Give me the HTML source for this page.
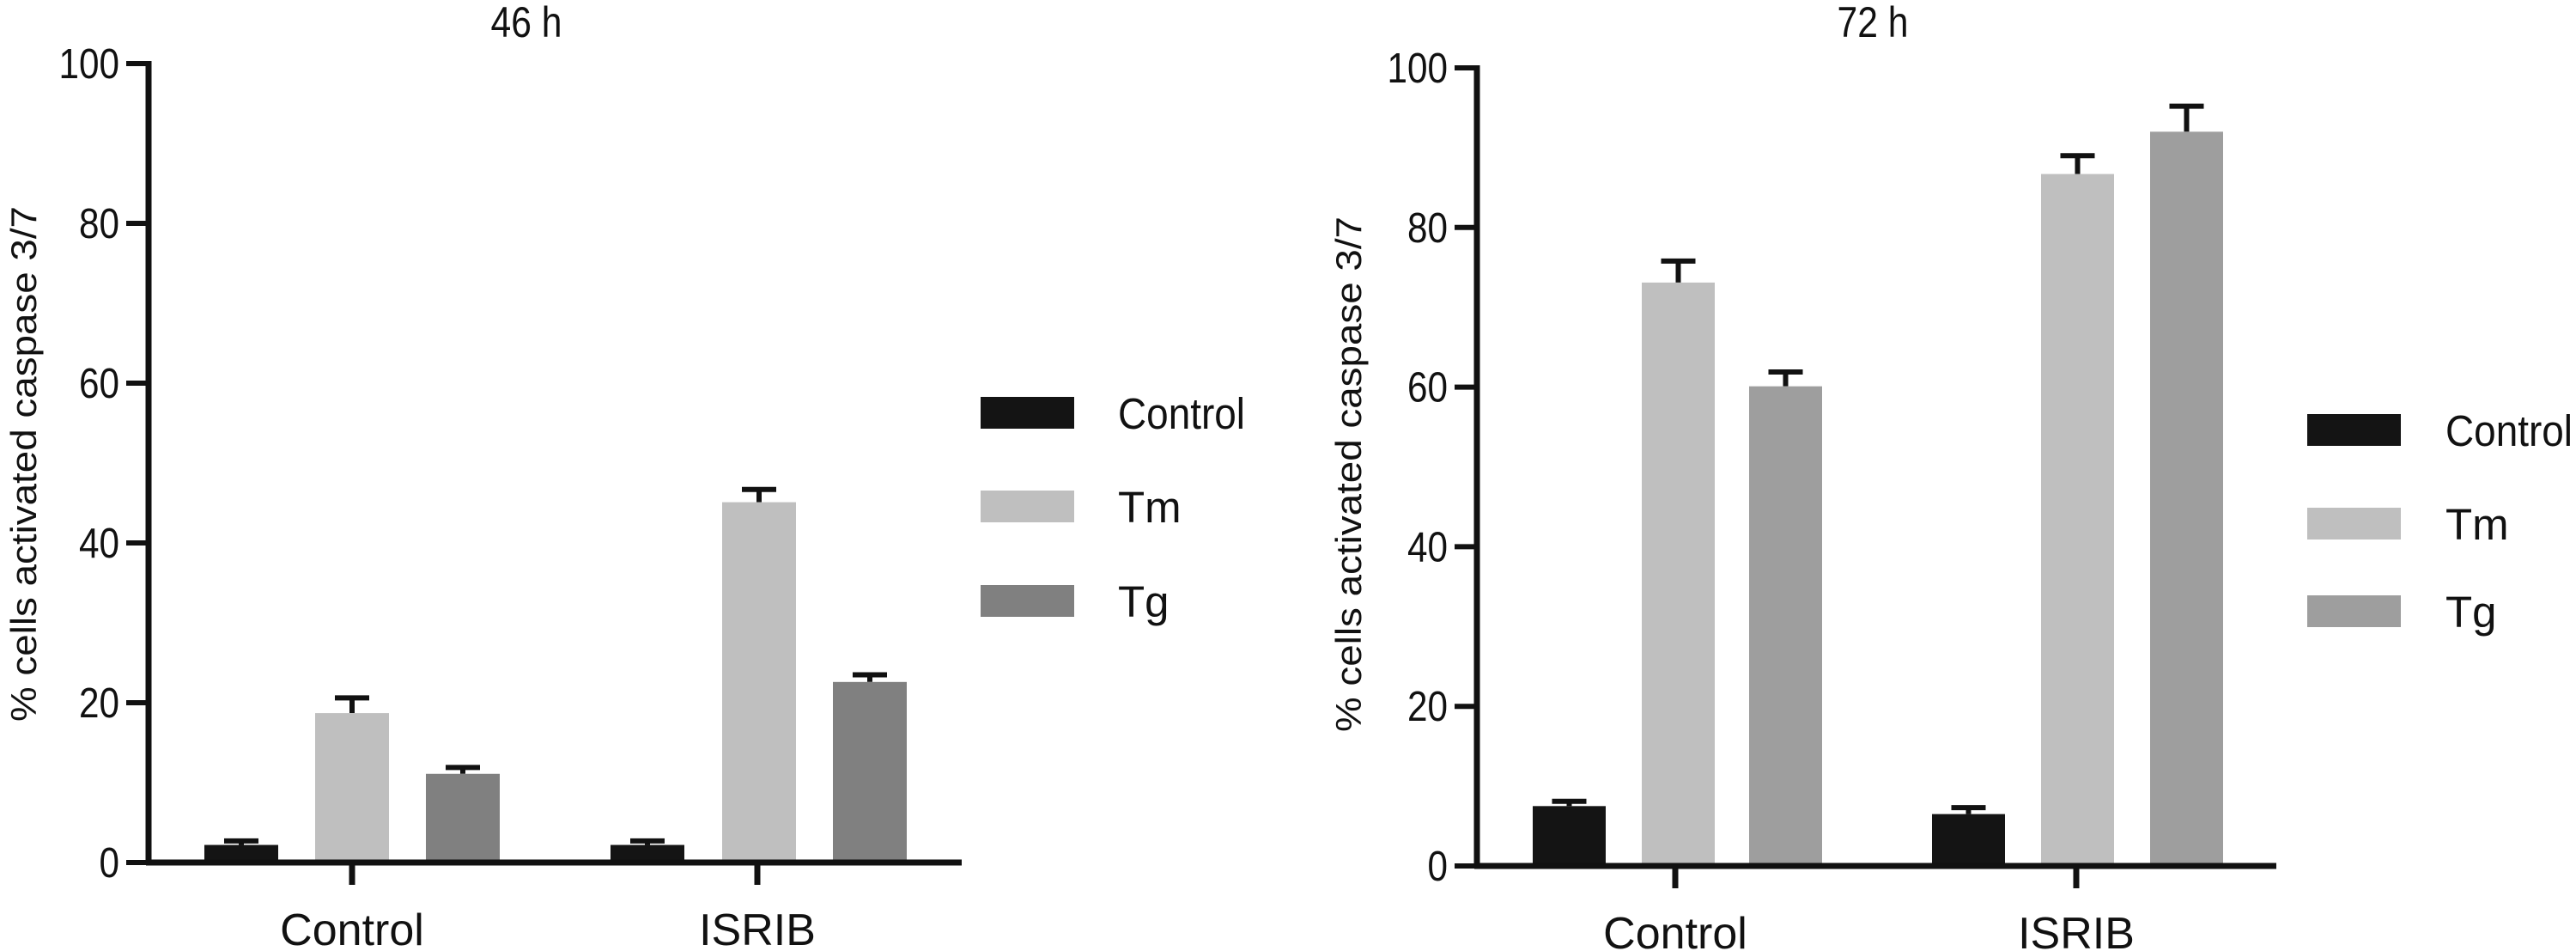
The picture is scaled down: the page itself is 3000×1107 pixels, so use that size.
<!DOCTYPE html>
<html><head><meta charset="utf-8"><style>
html,body{margin:0;padding:0;background:#fff;}
svg{display:block;}
text{font-family:"Liberation Sans",sans-serif;fill:#111;}
</style></head><body>
<svg id="chart" width="3000" height="1107" viewBox="0 0 3000 1107" xmlns="http://www.w3.org/2000/svg"></svg>
<script>
const categories = ["Control", "ISRIB"];
const seriesNames = ["Control", "Tm", "Tg"];
const yTicks = [0, 20, 40, 60, 80, 100];
const h46Means = [[2.2, 18.7, 11.1], [2.2, 45.1, 22.6]];
const h46ErrTop = [[2.7, 20.6, 11.9], [2.7, 46.7, 23.5]];
const h72Means = [[7.5, 73.1, 60.1], [6.5, 86.7, 92.0]];
const h72ErrTop = [[8.1, 75.8, 61.9], [7.3, 89.0, 95.2]];
const panelTitles = ["46 h", "72 h"];

const NS = "http://www.w3.org/2000/svg";
const svg = document.getElementById("chart");
function mk(tag, attrs, parent){
  const e = document.createElementNS(NS, tag);
  for (const k in attrs) e.setAttribute(k, attrs[k]);
  (parent||svg).appendChild(e);
  return e;
}

const panels = [
  {means:h46Means, err:h46ErrTop, title:panelTitles[0], ax:173, y0:1004, y100:74, xEnd:1120,
   groupX:[410,882], barLeft:[[238,367,496],[711,841,970]], bw:86,
   colors:["#141414","#bfbfbf","#808080"], titleX:613, yTitleX:42, yTitleY:540,
   legX:1142, legTextX:1302, legY:[462,571,681], name:"46h"},
  {means:h72Means, err:h72ErrTop, title:panelTitles[1], ax:1720, y0:1008, y100:79, xEnd:2651,
   groupX:[1951,2418], barLeft:[[1785,1912,2037],[2250,2377,2504]], bw:85,
   colors:["#141414","#bfbfbf","#9e9e9e"], titleX:2181, yTitleX:1585, yTitleY:552,
   legX:2687, legTextX:2848, legY:[482,591,693], name:"72h"}
];

panels.forEach(p => {
  const g = mk("g", {});
  
  
  const y = v => p.y0 - (p.y0 - p.y100) * v / 100;

  const t = mk("text", {x:p.titleX, y:43, "text-anchor":"middle", "font-size":50, textLength:83, lengthAdjust:"spacingAndGlyphs"}, g);
  t.textContent = p.title;
  
  

  const yt = mk("text", {x:0, y:0, "text-anchor":"middle", "font-size":42, transform:`translate(${p.yTitleX},${p.yTitleY}) rotate(-90)`, textLength:600, lengthAdjust:"spacingAndGlyphs"}, g);
  yt.textContent = "% cells activated caspase 3/7";
  
  

  // bars and error bars
  categories.forEach((c, ci) => {
    seriesNames.forEach((s, si) => {
      const x = p.barLeft[ci][si];
      const v = p.means[ci][si];
      const e = p.err[ci][si];
      const cx = x + p.bw/2;
      const eb = mk("line", {x1:cx, x2:cx, y1:y(v), y2:y(e), stroke:"#111", "stroke-width":6}, g);
      
      
      const cap = mk("line", {x1:cx-20, x2:cx+20, y1:y(e), y2:y(e), stroke:"#111", "stroke-width":6}, g);
      
      
      const r = mk("rect", {x:x, y:y(v), width:p.bw, height:p.y0 - y(v), fill:p.colors[si]}, g);
      
      
    });
    const tk = mk("line", {x1:p.groupX[ci], x2:p.groupX[ci], y1:p.y0, y2:p.y0+26, stroke:"#111", "stroke-width":7}, g);
    
    
    const cl = mk("text", {x:p.groupX[ci], y:p.y0+96, "text-anchor":"middle", "font-size":52}, g);
    cl.textContent = c;
    
    
  });

  // axes
  const xa = mk("line", {x1:p.ax-3, x2:p.xEnd, y1:p.y0, y2:p.y0, stroke:"#111", "stroke-width":7}, g);
  
  
  const ya = mk("line", {x1:p.ax, x2:p.ax, y1:y(100)-3, y2:p.y0+3, stroke:"#111", "stroke-width":7}, g);
  
  
  yTicks.forEach(v => {
    const tl = mk("line", {x1:p.ax-26, x2:p.ax, y1:y(v), y2:y(v), stroke:"#111", "stroke-width":6}, g);
    
    
    const s = String(v);
    const tx = mk("text", {x:p.ax-34, y:y(v)+17, "text-anchor":"end", "font-size":49, textLength:s.length*23.5, lengthAdjust:"spacingAndGlyphs"}, g);
    tx.textContent = s;
    
    
  });

  // legend
  seriesNames.forEach((s, si) => {
    const sw = mk("rect", {x:p.legX, y:p.legY[si], width:109, height:37, fill:p.colors[si]}, g);
    
    
    const lt = mk("text", {x:p.legTextX, y:p.legY[si]+37, "font-size":51}, g);
    lt.textContent = s;
    if (s === "Control") { lt.setAttribute("textLength", 148); lt.setAttribute("lengthAdjust", "spacingAndGlyphs"); }
    
    
  });
});
</script>
</body></html>
